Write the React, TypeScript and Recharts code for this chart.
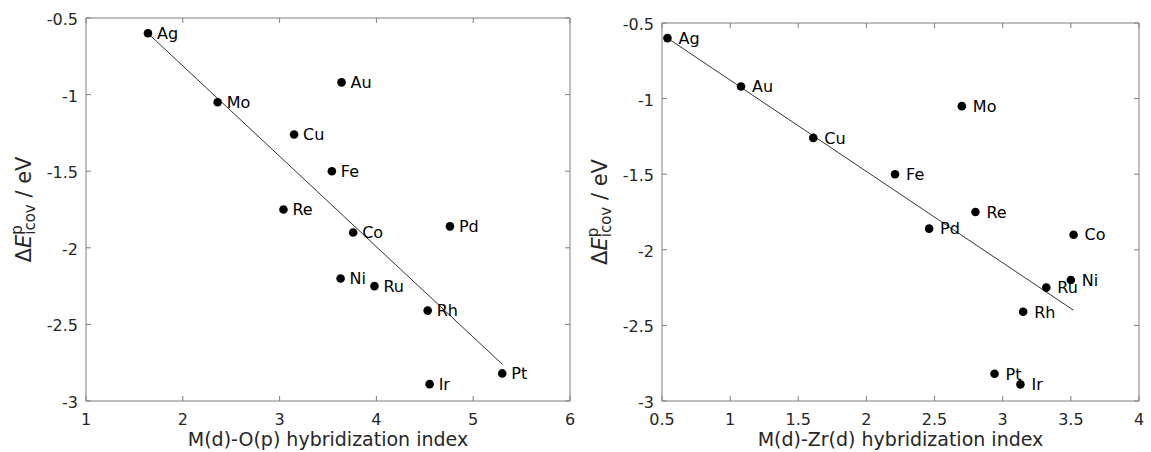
import { ScatterChart, Scatter, XAxis, YAxis, ReferenceArea } from "recharts"

const metals = ["Ag", "Au", "Mo", "Cu", "Fe", "Re", "Co", "Pd", "Ni", "Ru", "Rh", "Pt", "Ir"]
const dEicov = [-0.6, -0.92, -1.05, -1.26, -1.5, -1.75, -1.9, -1.86, -2.2, -2.25, -2.41, -2.82, -2.89]
const hybOp = [1.64, 3.64, 2.36, 3.15, 3.54, 3.04, 3.76, 4.76, 3.63, 3.98, 4.53, 5.3, 4.55]
const hybZr = [0.54, 1.08, 2.7, 1.61, 2.21, 2.8, 3.52, 2.46, 3.5, 3.32, 3.15, 2.94, 3.13]

// fitted lines, end points
const fitOpX = [1.64, 5.3]
const fitOpY = [-0.6, -2.76]
const fitZrX = [0.54, 3.52]
const fitZrY = [-0.6, -2.4]

const opTicks = [1, 2, 3, 4, 5, 6]
const zrTicks = [0.5, 1, 1.5, 2, 2.5, 3, 3.5, 4]
const yTicks = [-3, -2.5, -2, -1.5, -1, -0.5]

const FONT = "DejaVu Sans"
const AX = "#7f7f7f"
const TXT = "#262626"
const H = 452
const XH = 51

interface PanelProps {
  xs: number[]
  fitX: number[]
  fitY: number[]
  ticks: number[]
  xLabel: string
  width: number
  yAxisW: number
  top: number
  right: number
  labelDx: number
}

function Panel({ xs, fitX, fitY, ticks, xLabel, width, yAxisW, top, right, labelDx }: PanelProps) {
  const plotL = yAxisW
  const plotR = width - right
  const plotT = top
  const plotB = H - XH
  const pts = metals.map((m, i) => ({ name: m, x: xs[i], y: dEicov[i] }))
  const fit = fitX.map((x, i) => ({ x, y: fitY[i] }))

  const xTick = (p: any) => (
    <g>
      <line x1={p.x} x2={p.x} y1={plotB} y2={plotB - 5} stroke={AX} />
      <line x1={p.x} x2={p.x} y1={plotT} y2={plotT + 5} stroke={AX} />
      <text x={p.x} y={plotB + 23.5} textAnchor="middle" fontSize={16} fontFamily={FONT} fill={TXT}>{String(p.payload.value)}</text>
    </g>
  )
  const yTick = (p: any) => (
    <g>
      <line x1={plotL} x2={plotL + 5} y1={p.y} y2={p.y} stroke={AX} />
      <line x1={plotR} x2={plotR - 5} y1={p.y} y2={p.y} stroke={AX} />
      <text x={plotL - 8} y={p.y + 7} textAnchor="end" fontSize={16} fontFamily={FONT} fill={TXT}>{String(p.payload.value)}</text>
    </g>
  )
  const XLab = () => (
    <text x={(plotL + plotR) / 2} y={446} textAnchor="middle" fontSize={19} fontFamily={FONT} fill={TXT}>{xLabel}</text>
  )
  const YLab = () => (
    <text transform={`translate(${plotL - 55},${(plotT + plotB) / 2}) rotate(-90)`} textAnchor="middle"
      fontSize={21} fontFamily={FONT} fill={TXT} style={{ whiteSpace: "pre" }}>
      <tspan>Δ</tspan><tspan fontStyle="italic">E</tspan>
      <tspan fontSize={15} dy={-9}>p</tspan>
      <tspan fontSize={15} dx={-9.5} dy={13}>icov</tspan>
      <tspan dy={-4}> / eV</tspan>
    </text>
  )
  const dot = (p: any) => (
    <g>
      <circle cx={p.cx} cy={p.cy} r={4.3} fill="#000" />
      <text x={p.cx + labelDx} y={p.cy + 5.8} fontSize={16} fontFamily={FONT} fill="#000">{p.payload.name}</text>
    </g>
  )

  return (
    <ScatterChart width={width} height={H} margin={{ top, right, bottom: 0, left: 0 }}>
      <XAxis type="number" dataKey="x" domain={[ticks[0], ticks[ticks.length - 1]]} ticks={ticks} allowDataOverflow
        axisLine={false} tickLine={false} tickSize={0} tickMargin={0} height={XH} tick={xTick} label={<XLab />} />
      <YAxis type="number" dataKey="y" domain={[-3, -0.5]} ticks={yTicks} allowDataOverflow
        axisLine={false} tickLine={false} tickSize={0} tickMargin={0} width={yAxisW} tick={yTick} label={<YLab />} />
      <ReferenceArea x1={ticks[0]} x2={ticks[ticks.length - 1]} y1={-3} y2={-0.5} fill="none" stroke={AX} strokeWidth={1} />
      <Scatter data={fit} line={{ stroke: "#333", strokeWidth: 1 }} shape={() => <g />} isAnimationActive={false} />
      <Scatter data={pts} shape={dot} isAnimationActive={false} />
    </ScatterChart>
  )
}

export default function App() {
  return (
    <div style={{ position: "absolute", left: 0, top: 0, width: 1151, height: H, background: "#fff", fontFamily: FONT }}>
      <div style={{ position: "absolute", left: 0, top: 0 }}>
        <Panel xs={hybOp} fitX={fitOpX} fitY={fitOpY} ticks={opTicks} xLabel="M(d)-O(p) hybridization index"
          width={575} yAxisW={86} top={18} right={5} labelDx={9} />
      </div>
      <div style={{ position: "absolute", left: 575, top: 0 }}>
        <Panel xs={hybZr} fitX={fitZrX} fitY={fitZrY} ticks={zrTicks} xLabel="M(d)-Zr(d) hybridization index"
          width={576} yAxisW={87} top={23} right={12} labelDx={11} />
      </div>
    </div>
  )
}
